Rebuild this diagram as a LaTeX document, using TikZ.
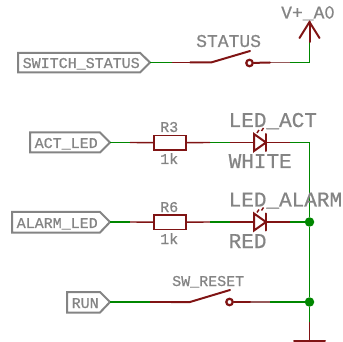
\documentclass[tikz,border=0pt]{standalone}
\usepackage{fontspec}
\setmainfont{Liberation Mono}[FakeBold=0.7]
\setmonofont{Latin Modern Mono}[FakeBold=0.7,Scale=1.1]
\definecolor{wirered}{RGB}{128,20,20}
\definecolor{pinred}{RGB}{150,90,90}
\definecolor{wiregreen}{RGB}{0,135,0}
\definecolor{labelgray}{RGB}{132,132,132}
\tikzset{
  sym/.style={draw=wirered,line width=2pt,line cap=round},
  symthin/.style={draw=wirered,line width=1.4pt},
  net/.style={draw=wiregreen,line width=1.5pt},
  labelbox/.style={draw=labelgray,line width=2pt,line join=miter},
  txt/.style={text=labelgray,inner sep=0pt,anchor=base west},
  dot/.style={circle,fill=wiregreen,draw=none,minimum size=9.5pt,inner sep=0pt},
  pad/.style={circle,draw=wirered,line width=2.2pt,fill=white,minimum size=6.5pt,inner sep=0pt},
  res/.style={draw=wirered,line width=1.6pt,fill=white,rectangle,minimum width=32pt,minimum height=14.5pt,inner sep=0pt},
}
\begin{document}
\begin{tikzpicture}[x=1pt,y=-1pt]
\useasboundingbox (0,0) rectangle (343,342);
% anchors
\coordinate (lblS) at (150,62.5);
\coordinate (lblA) at (110,142.5);
\coordinate (lblB) at (110,222);
\coordinate (lblC) at (110,302);
\coordinate (busA) at (309.5,142.5);
\coordinate (vcc) at (309.5,22);
\coordinate (gnd) at (309.5,341);
\node[dot] (j1) at (309.5,222) {};
\node[dot] (j2) at (309.5,302) {};
\node[res] (r3) at (170,142.8) {};
\node[res] (r6) at (170,222.3) {};
% hierarchical labels
\draw[labelbox] (18,52.8) -- (140,52.8) -- (lblS) -- (140,72.5) -- (18,72.5) -- cycle;
\draw[labelbox] (30,132.5) -- (100,132.5) -- (lblA) -- (100,152.5) -- (30,152.5) -- cycle;
\draw[labelbox] (12,212) -- (100,212) -- (lblB) -- (100,232.5) -- (12,232.5) -- cycle;
\draw[labelbox] (67,292) -- (100,292) -- (lblC) -- (100,312.5) -- (67,312.5) -- cycle;
% nets
\draw[net] (lblS) -- (172,62.5);
\draw[net] (290,62.5) -- (309.5,62.5) -- (309.5,42);
\draw[net] (lblA) -- (130,142.5);
\draw[net] (210,142.5) -- (230,142.5);
\draw[net] (290,142.5) -- (busA) -- (j1) -- (j2) -- (309.5,322);
\draw[net] (lblB) -- (130,222);
\draw[net] (210,222) -- (230,222);
\draw[net] (290,222) -- (j1);
\draw[net] (lblC) -- (150,302);
\draw[net] (270,302) -- (j2);
% pins
\draw[symthin] (172,62.5) -- (190,62.5);
\draw[symthin,draw=pinred] (270,62.5) -- (290,62.5);
\draw[symthin] (130,142.5) -- (r3);
\draw[symthin] (r3) -- (210,142.5);
\draw[symthin] (230,142.5) -- (254,142.5);
\draw[symthin] (266,142.5) -- (290,142.5);
\draw[symthin] (130,222) -- (r6);
\draw[symthin] (r6) -- (210,222);
\draw[symthin] (230,222) -- (254,222);
\draw[symthin] (266,222) -- (290,222);
\draw[symthin] (150,302) -- (171,302);
\draw[symthin,draw=pinred] (250,302) -- (270,302);
% switch STATUS
\draw[sym] (190,62.5) -- (211,62.5) -- (250,51);
\node[pad] (p1) at (249.5,63) {};
\draw[sym] (p1) -- (270,62.5);
% switch SW_RESET
\draw[sym] (171,302) -- (190,302) -- (230,290);
\node[pad] (p2) at (229.5,302) {};
\draw[sym] (p2) -- (250,302);
% V+
\draw[sym] (309.5,42) -- (vcc);
\draw[sym] (299.5,38) -- (vcc) -- (319.5,38);
% GND
\draw[symthin] (309.5,322) -- (gnd);
\draw[sym] (294,341) -- (325,341);
% LEDs
\draw[sym,line join=miter] (254,134) -- (266,142.5) -- (254,151) -- cycle;
\draw[sym] (266,134) -- (266,151);
\draw[symthin] (257,133) -- (259,130);
\draw[symthin] (261.5,131) -- (263.5,128);
\draw[sym,line join=miter] (254,213.5) -- (266,222) -- (254,230.5) -- cycle;
\draw[sym] (266,213.5) -- (266,230.5);
\draw[symthin] (257,212.5) -- (259,209.5);
\draw[symthin] (261.5,210.5) -- (263.5,207.5);
% texts
\node[txt,font=\fontsize{15}{15}\selectfont] (t1) at (22.5,68) {SWITCH\_STATUS};
\node[txt,font=\fontsize{15}{15}\selectfont] (t2) at (34.5,148) {ACT\_LED};
\node[txt,font=\fontsize{15}{15}\selectfont] (t3) at (16.5,228) {ALARM\_LED};
\node[txt,font=\fontsize{15}{15}\selectfont] (t4) at (71.5,308) {RUN};
\node[txt,font=\fontsize{18}{18}\selectfont] (t5) at (196,47) {STATUS};
\node[txt,font=\fontsize{18}{18}\selectfont] (t6) at (281,18.5) {V+\_A{\ttfamily 0}};
\node[txt,font=\fontsize{15}{15}\selectfont] (t7) at (160,132) {R3};
\node[txt,font=\fontsize{15}{15}\selectfont] (t8) at (160,164) {1k};
\node[txt,font=\fontsize{15}{15}\selectfont] (t9) at (160,212) {R6};
\node[txt,font=\fontsize{15}{15}\selectfont] (t10) at (160,244) {1k};
\node[txt,font=\fontsize{21}{21}\selectfont] (t11) at (228.5,127) {LED\_ACT};
\node[txt,font=\fontsize{21}{21}\selectfont] (t12) at (228.5,168) {WHITE};
\node[txt,font=\fontsize{21}{21}\selectfont] (t13) at (228.5,206.5) {LED\_ALARM};
\node[txt,font=\fontsize{21}{21}\selectfont] (t14) at (228.5,248) {RED};
\node[txt,font=\fontsize{15}{15}\selectfont] (t15) at (172,286) {SW\_RESET};
\end{tikzpicture}
\end{document}
